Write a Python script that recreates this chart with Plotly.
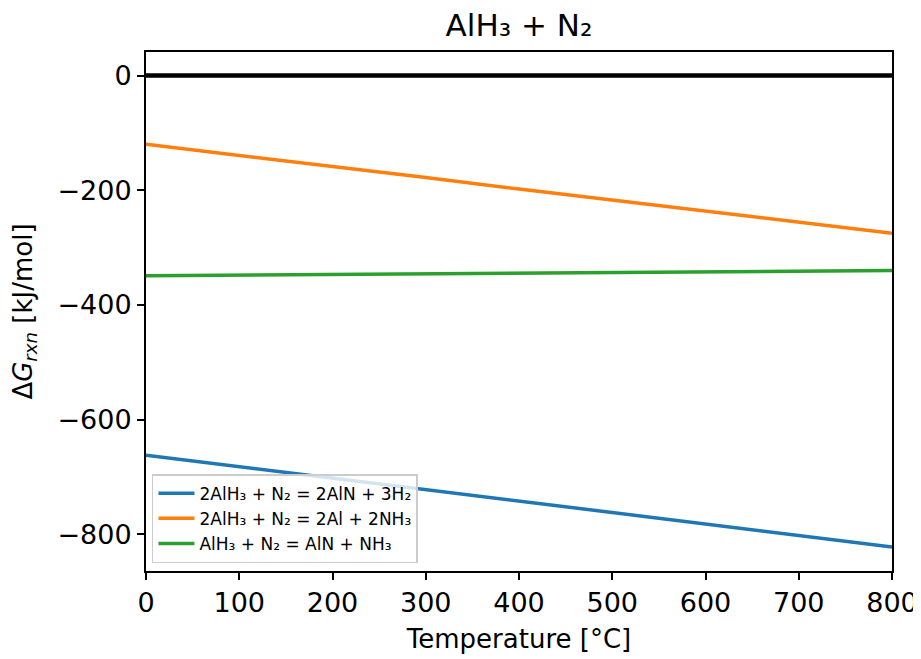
import plotly.graph_objects as go

temps = [0, 100, 200, 300, 400, 500, 600, 700, 800]
dg_aln_h2 = [-662, -682, -702, -722, -742, -762, -782, -802, -822]
dg_al_nh3 = [-120, -139, -159, -178, -198, -217, -236, -256, -275]
dg_aln_nh3 = [-349, -348, -347, -346, -345, -344, -343, -342, -340]
zero_line = [0, 0, 0, 0, 0, 0, 0, 0, 0]

names = ["2AlH₃ + N₂ = 2AlN + 3H₂", "2AlH₃ + N₂ = 2Al + 2NH₃", "AlH₃ + N₂ = AlN + NH₃"]
colors = ["#1f77b4", "#ff7f0e", "#2ca02c"]

x_ticks = [0, 100, 200, 300, 400, 500, 600, 700, 800]
y_ticks = [0, -200, -400, -600, -800]
y_ticktext = ["0", "−200", "−400", "−600", "−800"]

font = "DejaVu Sans, sans-serif"

# page has an 8px body margin, so the figure is sized/positioned to compensate
W, H = 913, 651

fig = go.Figure()
fig.add_trace(go.Scatter(x=temps, y=zero_line, mode="lines",
                         line=dict(color="black", width=4.5), showlegend=False, hoverinfo="skip"))
for ys, nm, c in zip([dg_aln_h2, dg_al_nh3, dg_aln_nh3], names, colors):
    fig.add_trace(go.Scatter(x=temps, y=ys, mode="lines", name=nm,
                             line=dict(color=c, width=3.5)))

fig.update_layout(
    width=W, height=H,
    margin=dict(l=138, r=29, t=44, b=88),
    paper_bgcolor="white", plot_bgcolor="white",
    font=dict(family=font, color="black", size=26),
    title=dict(text="AlH₃ + N₂", x=0.5, xanchor="center", xref="paper",
               y=1 - 17 / H, yanchor="middle", yref="container",
               font=dict(size=31, family=font)),
    legend=dict(x=0.008, y=0.015, xanchor="left", yanchor="bottom",
                bgcolor="rgba(255,255,255,0.8)", bordercolor="#cccccc", borderwidth=1.5,
                font=dict(size=17, family=font), tracegroupgap=0, itemwidth=36),
    showlegend=True,
)
fig.update_xaxes(range=[0, 800], tickvals=x_ticks, ticks="outside", ticklen=7, tickwidth=2,
                 tickcolor="black", showline=True, linecolor="black", linewidth=2, mirror=True,
                 showgrid=False, zeroline=False, tickfont=dict(size=27), automargin=False,
                 title=dict(text="Temperature [°C]", font=dict(size=26), standoff=12))
fig.update_yaxes(range=[-864, 41], tickvals=y_ticks, ticktext=y_ticktext, ticks="outside",
                 ticklen=7, tickwidth=2, tickcolor="black", showline=True, linecolor="black",
                 linewidth=2, mirror=True, showgrid=False, zeroline=False, tickfont=dict(size=27),
                 automargin=False,
                 title=dict(text="Δ<i>G<sub>rxn</sub></i> [kJ/mol]", font=dict(size=26), standoff=18))

fig.write_html("out.html")
